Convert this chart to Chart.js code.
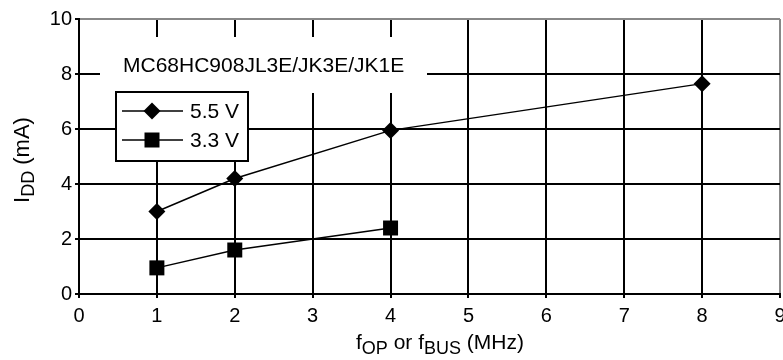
<!DOCTYPE html>
<html>
<head>
<meta charset="utf-8">
<script src="https://cdn.jsdelivr.net/npm/chart.js@4.4.0/dist/chart.umd.min.js"></script>
<style>
  html, body { margin: 0; padding: 0; background: #fff; }
</style>
</head>
<body>
<canvas id="chart" width="783" height="360"></canvas>
<script>
// data
var freq55 = [1, 2, 4, 8];
var idd55 = [3.0, 4.2, 5.95, 7.65];
var freq33 = [1, 2, 4];
var idd33 = [0.95, 1.6, 2.4];
var seriesLabels = ['5.5 V', '3.3 V'];
var xTicks = [0, 1, 2, 3, 4, 5, 6, 7, 8, 9];
var yTicks = [0, 2, 4, 6, 8, 10];
var partTitle = 'MC68HC908JL3E/JK3E/JK1E';

var FONT = '"Liberation Sans", Arial, Helvetica, sans-serif';

function toPoints(xs, ys) {
    return xs.map(function(x, i) { return { x: x, y: ys[i] } })
}

// draws text pieces, some of them subscripted, starting at x
function drawRich(ctx, parts, x, y, size, subSize, subShift) {
    parts.forEach(function(p) {
        ctx.font = (p.sub ? subSize : size) + 'px ' + FONT
        ctx.fillText(p.t, x, p.sub ? y + subShift : y)
        x += ctx.measureText(p.t).width
    })
}
function richWidth(ctx, parts, size, subSize) {
    var w = 0
    parts.forEach(function(p) {
        ctx.font = (p.sub ? subSize : size) + 'px ' + FONT
        w += ctx.measureText(p.t).width
    })
    return w
}

function marker(ctx, style, x, y) {
    ctx.beginPath()
    if (style == 'rectRot') {
        var r = 8.5
        ctx.moveTo(x, y - r); ctx.lineTo(x + r, y); ctx.lineTo(x, y + r); ctx.lineTo(x - r, y)
        ctx.closePath()
    } else {
        ctx.rect(x - 7.5, y - 7.5, 15, 15)
    }
    ctx.fill()
}

var overlays = {
    id: 'overlays',
    beforeDatasetsDraw: function(chart) {
        var ctx = chart.ctx
        ctx.save()
        // part number box (hides the grid behind it)
        ctx.fillStyle = '#fff'
        ctx.fillRect(100, 37, 327, 56)
        ctx.fillStyle = '#000'
        ctx.font = '21px ' + FONT
        ctx.textBaseline = 'middle'
        ctx.textAlign = 'left'
        ctx.fillText(partTitle, 123, 66)

        // legend box
        ctx.fillStyle = '#fff'
        ctx.fillRect(116, 92, 132, 69)
        ctx.strokeStyle = '#000'
        ctx.lineWidth = 2
        ctx.strokeRect(116, 92, 132, 69)
        chart.data.datasets.forEach(function(ds, i) {
            var y = 111 + i * 29
            ctx.beginPath()
            ctx.lineWidth = 1.5
            ctx.moveTo(122, y); ctx.lineTo(183, y)
            ctx.stroke()
            ctx.fillStyle = '#000'
            marker(ctx, ds.pointStyle, 152, y)
            ctx.font = '21px ' + FONT
            ctx.fillText(ds.label, 190, y + 1)
        })
        ctx.restore()
    },
    afterDraw: function(chart) {
        var ctx = chart.ctx
        ctx.save()
        ctx.fillStyle = '#000'
        ctx.textBaseline = 'alphabetic'
        ctx.textAlign = 'left'

        var xParts = [{ t: 'f' }, { t: 'OP', sub: true }, { t: ' or f' }, { t: 'BUS', sub: true }, { t: ' (MHz)' }]
        var w = richWidth(ctx, xParts, 21, 18)
        drawRich(ctx, xParts, 440 - w / 2, 349, 21, 18, 5)

        var yParts = [{ t: 'I' }, { t: 'DD', sub: true }, { t: ' (mA)' }]
        ctx.translate(29, 160)
        ctx.rotate(-Math.PI / 2)
        w = richWidth(ctx, yParts, 22, 18)
        drawRich(ctx, yParts, -w / 2, 0, 22, 18, 5)
        ctx.restore()
    }
}

var ctx = document.getElementById('chart').getContext('2d')
new Chart(ctx, {
    type: 'line',
    data: {
        datasets: [{
            label: seriesLabels[0],
            data: toPoints(freq55, idd55),
            borderColor: '#000',
            backgroundColor: '#000',
            borderWidth: 1.5,
            pointStyle: 'rectRot',
            pointRadius: 8.5,
            pointBorderWidth: 0
        }, {
            label: seriesLabels[1],
            data: toPoints(freq33, idd33),
            borderColor: '#000',
            backgroundColor: '#000',
            borderWidth: 1.5,
            pointStyle: 'rect',
            pointRadius: 10.6,
            pointBorderWidth: 0
        }]
    },
    options: {
        responsive: false,
        animation: false,
        events: [],
        layout: { autoPadding: false, padding: { top: 19, right: 3, left: 0, bottom: 0 } },
        plugins: {
            legend: { display: false },
            tooltip: { enabled: false }
        },
        scales: {
            x: {
                type: 'linear',
                min: 0,
                max: 9,
                afterBuildTicks: function(scale) {
                    scale.ticks = xTicks.map(function(v) { return { value: v } })
                },
                afterFit: function(scale) {
                    scale.height = 66
                    scale.paddingLeft = 0
                    scale.paddingRight = 0
                },
                grid: {
                    color: function(c) { return c.tick && c.tick.value == 9 ? '#888' : '#000' },
                    tickColor: '#000',
                    lineWidth: 2,
                    tickLength: 4
                },
                border: { color: '#000', width: 2 },
                ticks: { color: '#000', padding: 6, font: { family: FONT, size: 20 }, maxRotation: 0 }
            },
            y: {
                min: 0,
                max: 10,
                afterBuildTicks: function(scale) {
                    scale.ticks = yTicks.map(function(v) { return { value: v } })
                },
                afterFit: function(scale) {
                    scale.width = 79
                    scale.paddingTop = 0
                    scale.paddingBottom = 0
                },
                grid: {
                    color: function(c) { return c.tick && c.tick.value == 10 ? '#888' : '#000' },
                    tickColor: '#000',
                    lineWidth: 2,
                    tickLength: 4
                },
                border: { color: '#000', width: 2 },
                ticks: { color: '#000', padding: 3, font: { family: FONT, size: 20 } }
            }
        }
    },
    plugins: [overlays]
})
</script>
</body>
</html>
